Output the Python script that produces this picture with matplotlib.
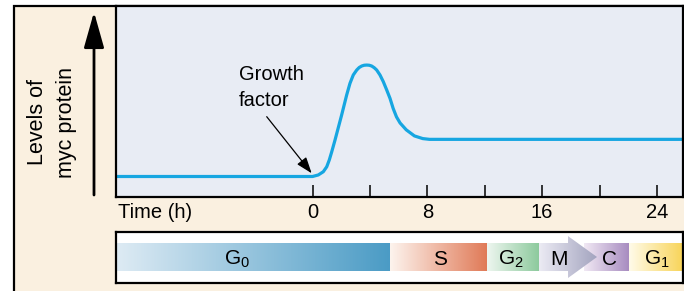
import numpy as np
import matplotlib.pyplot as plt
from matplotlib.patches import Rectangle, Polygon, FancyArrowPatch
from matplotlib.colors import LinearSegmentedColormap

plt.rcParams['font.family'] = ['Liberation Sans', 'DejaVu Sans']
plt.rcParams['mathtext.fontset'] = 'custom'
plt.rcParams['mathtext.rm'] = 'Liberation Sans'
plt.rcParams['mathtext.default'] = 'regular'

# myc protein level (arbitrary units) vs time in hours
hours = [-14.0, 0.0, 0.40, 0.75, 0.99, 1.17, 1.34, 1.57, 2.03, 2.38, 2.61,
         2.84, 3.08, 3.25, 3.43, 3.60, 3.78, 3.95, 4.12, 4.30, 4.47, 4.70,
         4.93, 5.17, 5.40, 5.62, 5.85, 6.10, 6.53, 7.10, 7.68, 8.15, 26.0]
myc_level = [1.05, 1.05, 1.13, 1.30, 1.56, 1.92, 2.35, 2.97, 4.28, 5.33, 5.94,
             6.38, 6.64, 6.77, 6.85, 6.89, 6.90, 6.89, 6.85, 6.76, 6.64, 6.38,
             6.03, 5.59, 5.15, 4.62, 4.18, 3.86, 3.50, 3.18, 3.04, 3.00, 3.00]

tick_hours = [0, 4, 8, 12, 16, 20, 24]
label_hours = [0, 8, 16, 24]

# cell cycle phases (start, end in hours) with gradient colours
phase_names = ['G$_0$', 'S', 'G$_2$', 'C', 'G$_1$']
phase_start = [-13.69, 5.40, 12.16, 18.91, 22.05]
phase_end = [5.40, 12.16, 15.78, 22.05, 25.81]
phase_light = ['#deebf4', '#fdf4ee', '#eef6f0', '#f1e9f4', '#fffbea']
phase_dark = ['#4a9bc5', '#e07956', '#8dca9d', '#a68abf', '#f8d458']
phase_label_x = [-5.26, 8.88, 13.8, 20.69, 24.0]
# mitosis arrow
m_start, m_body_end, m_tip = 15.78, 17.80, 19.82

W, H = 684, 291
fig = plt.figure(figsize=(W / 100, H / 100), dpi=100, facecolor='white')


def fx(px):
    return px / W


def fy(py):
    return 1 - py / H


# beige frame
fig.add_artist(Rectangle((fx(14), fy(400)), 2, fy(5.7) - fy(400),
                         transform=fig.transFigure, facecolor='#faf0e0',
                         edgecolor='black', linewidth=1.6, zorder=0))

xlim = (-13.69, 25.81)

ax = fig.add_axes([fx(116), fy(196.5), fx(683) - fx(116), fy(6) - fy(196.5)])
ax.set_facecolor('#e8ecf4')
ax.plot(hours, myc_level, color='#16a6e1', lw=2.3, solid_capstyle='round',
        solid_joinstyle='round')
ax.set_xlim(xlim)
ax.set_ylim(0, 10)
ax.set_yticks([])
ax.set_xticks(label_hours)
ax.set_xticks(tick_hours, minor=True)
ax.tick_params(axis='x', which='both', direction='in', length=9, width=1.1,
               labelsize=14.5, pad=5)
for s in ax.spines.values():
    s.set_linewidth(1.6)
ax.text(0.004, -0.082, 'Time (h)', transform=ax.transAxes, fontsize=14.5,
        va='center', ha='left')

ax.text(-5.12, 5.72, 'Growth\nfactor', fontsize=14.5, ha='left', va='center',
        linespacing=1.45)
ax.annotate('', xy=(-0.06, 1.22), xytext=(-3.19, 4.19),
            arrowprops=dict(arrowstyle='-|>,head_length=0.7,head_width=0.25',
                            color='black', lw=0.9, shrinkA=0, shrinkB=0,
                            mutation_scale=14))

# y axis arrow and label
fig.add_artist(FancyArrowPatch((fx(94), fy(195)), (fx(94), fy(12)),
                               transform=fig.transFigure,
                               arrowstyle='-|>,head_length=22,head_width=6.2',
                               mutation_scale=1, shrinkA=0, shrinkB=0,
                               color='black', lw=2))
fig.text(fx(52), fy(122), 'Levels of\nmyc protein', rotation=90, fontsize=15.5,
         ha='center', va='center', multialignment='center', linespacing=1.45)

# phase bar
bx = fig.add_axes([fx(116), fy(283), fx(683) - fx(116), fy(232) - fy(283)])
bx.set_facecolor('white')
bx.set_xlim(xlim)
bx.set_ylim(0, 1)
bx.set_xticks([])
bx.set_yticks([])
for s in bx.spines.values():
    s.set_linewidth(1.6)

y0, y1 = 0.235, 0.784
grad = np.linspace(0, 1, 256).reshape(1, -1)
for name, a, b, c0, c1, lx in zip(phase_names, phase_start, phase_end,
                                  phase_light, phase_dark, phase_label_x):
    cmap = LinearSegmentedColormap.from_list(name, [c0, c1])
    bx.imshow(grad, cmap=cmap, extent=(a, b, y0, y1), aspect='auto',
              interpolation='bilinear', zorder=1)
    bx.text(lx, 0.36, name, fontsize=15, ha='center', va='baseline',
            zorder=4)

arrow = Polygon([(m_start, y0), (m_body_end, y0), (m_body_end, 0.098),
                 (m_tip, 0.51), (m_body_end, 0.92), (m_body_end, y1),
                 (m_start, y1)], closed=True, facecolor='none',
                edgecolor='none')
bx.add_patch(arrow)
cmap_m = LinearSegmentedColormap.from_list('M', ['#ecebf4', '#a3a4bf'])
im = bx.imshow(grad, cmap=cmap_m, extent=(m_start, m_tip, 0.098, 0.92),
               aspect='auto', interpolation='bilinear', zorder=2)
im.set_clip_path(arrow)
bx.text(17.14, 0.36, 'M', fontsize=15, ha='center', va='baseline', zorder=4)
bx.set_xlim(xlim)
bx.set_ylim(0, 1)

fig.savefig('out.png', dpi=100, facecolor='white')
